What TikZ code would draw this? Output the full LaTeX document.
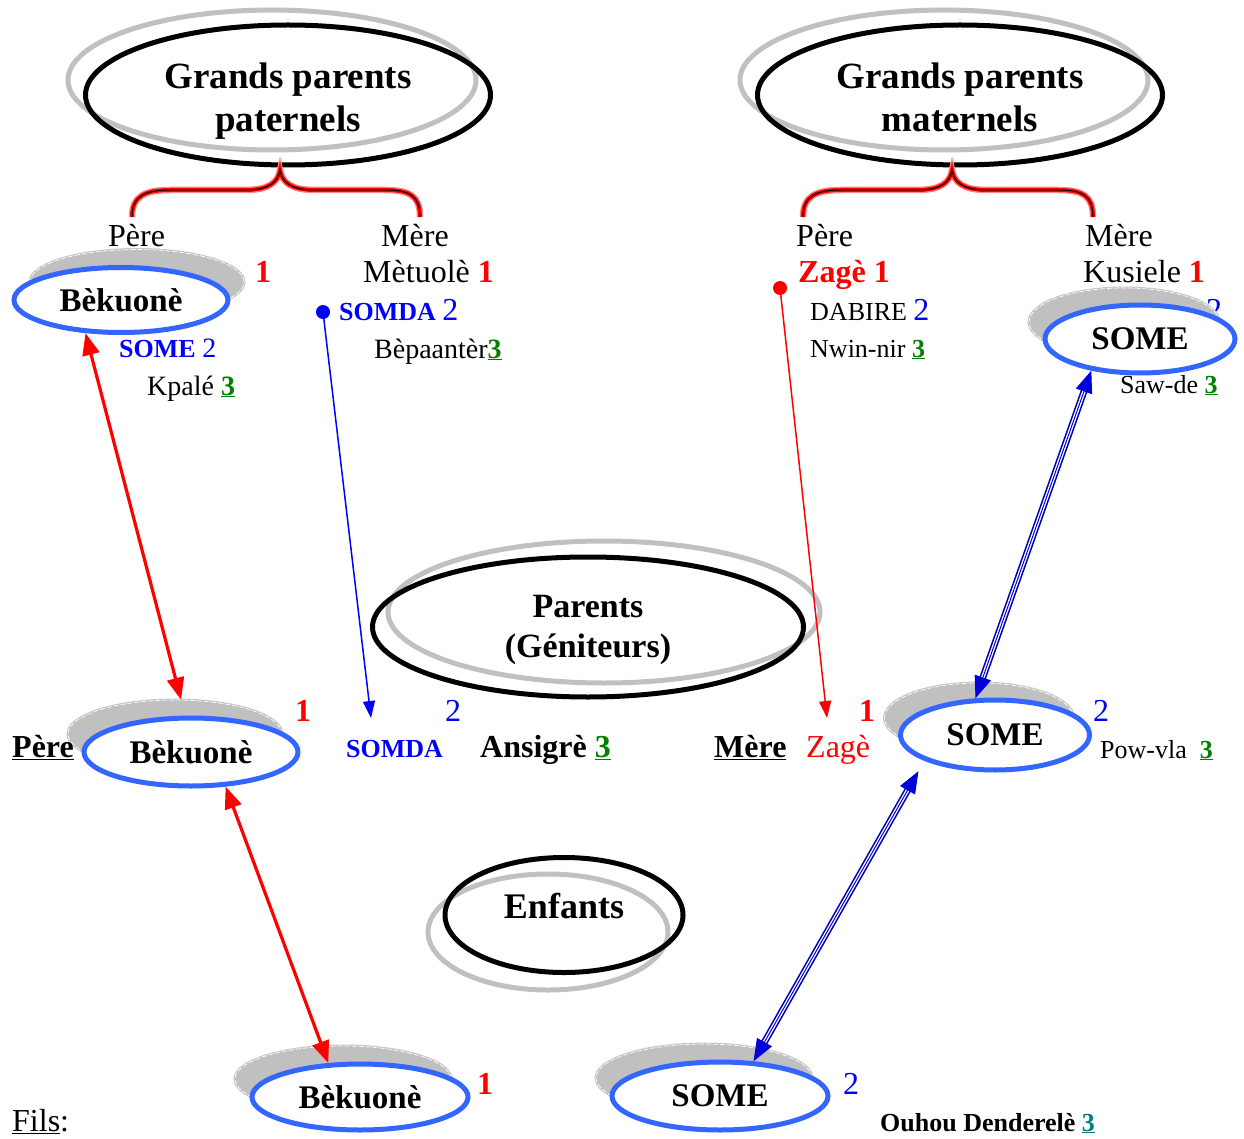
\documentclass[tikz,border=0pt]{standalone}
\usepackage{fontspec}
\setmainfont{Liberation Serif}
\usetikzlibrary{shapes.geometric,arrows.meta}
\definecolor{lblue}{RGB}{51,102,255}
\definecolor{sgray}{RGB}{192,192,192}
\definecolor{dgreen}{RGB}{0,128,0}
\definecolor{tealc}{RGB}{0,128,128}
\definecolor{pblue}{RGB}{0,0,255}
\definecolor{pred}{RGB}{255,0,0}
\newcommand\fzA{\fontsize{32}{38}\selectfont}
\newcommand\fzB{\fontsize{28}{33}\selectfont}
\newcommand\fzC{\fontsize{26}{31}\selectfont}
\newcommand\gthree{\textcolor{dgreen}{\underline{\textbf{3}}}}
\begin{document}
\begin{tikzpicture}[x=1pt,y=-1pt,
  bigshadow/.style={ellipse, draw=sgray, line width=5pt, inner sep=0pt},
  bigell/.style={ellipse, draw=black, line width=5pt, inner sep=0pt},
  bigtxt/.style={align=center, inner sep=0pt},
  pshadow/.style={ellipse, fill=sgray, draw=white, dash pattern=on 5pt off 2pt, line width=0.7pt, inner sep=0pt,
     preaction={draw=sgray!90, line width=3pt, solid}},
  pell/.style={ellipse, draw=lblue, fill=white, line width=5pt, inner sep=0pt, font=\fontsize{33}{37}\selectfont\bfseries},
  txt/.style={inner sep=0pt, anchor=base west},
  brace/.style={draw=pred, line width=4pt, preaction={draw=pred!45, line width=6.5pt}, postaction={draw=black, line width=1pt}},
  rarr/.style={draw=pred, line width=3.2pt, {Triangle[length=22pt,width=17pt]}-{Triangle[length=22pt,width=17pt]}},
  thinb/.style={draw=pblue, line width=1.5pt, -{Triangle[length=17pt,width=12pt]}},
  thinr/.style={draw=pred, line width=1.5pt, -{Triangle[length=17pt,width=12pt]}},
  bdbl/.style={draw=blue!70!black, line width=1.6pt, double=white, double distance=3.6pt},
  bhead/.style={draw=blue!85!black, line width=1pt, {Triangle[length=22pt,width=17pt]}-{Triangle[length=22pt,width=17pt]}},
  dot/.style={circle, inner sep=0pt, minimum size=14pt}
]
\useasboundingbox (0,0) rectangle (1244,1139);

% ---- big category ellipses
\node[bigshadow, minimum width=408pt, minimum height=140pt] (gpps) at (272,80) {};
\node[bigell, minimum width=405pt, minimum height=140pt] (gppe) at (288,95) {};
\node[bigtxt, font=\fontsize{37}{43}\selectfont\bfseries] (gppt) at (288,101) {Grands parents\\paternels};

\node[bigshadow, minimum width=408pt, minimum height=140pt] (gpms) at (944,80) {};
\node[bigell, minimum width=405pt, minimum height=140pt] (gpme) at (960,95) {};
\node[bigtxt, font=\fontsize{37}{43}\selectfont\bfseries] (gpmt) at (960,97) {Grands parents\\maternels};

\node[bigshadow, minimum width=432pt, minimum height=142pt] (pars) at (604,612) {};
\node[bigell, minimum width=431pt, minimum height=140pt] (pare) at (588,627) {};
\node[bigtxt, font=\fontsize{34}{40}\selectfont\bfseries] (part) at (588,630) {Parents\\(Géniteurs)};

\node[bigshadow, minimum width=240pt, minimum height=116pt] (enfs) at (548,932) {};
\node[bigell, minimum width=238pt, minimum height=115pt] (enfe) at (564,915) {};
\node[bigtxt, font=\fontsize{36}{42}\selectfont\bfseries] (enft) at (564,906) {Enfants};

% ---- braces
\path[brace] (132,217) .. controls (132,196) and (145,190) .. (170,190) -- (245,190)
  .. controls (268,190) and (278,183) .. (280,170)
  .. controls (282,183) and (292,190) .. (315,190) -- (385,190)
  .. controls (410,190) and (420,196) .. (420,217);
\path[brace] (803,217) .. controls (803,196) and (816,190) .. (841,190) -- (917,190)
  .. controls (940,190) and (950,183) .. (952,170)
  .. controls (954,183) and (964,190) .. (987,190) -- (1058,190)
  .. controls (1083,190) and (1093,196) .. (1093,217);

% ---- labels, top left
\node[txt, font=\fzA] (pg1) at (108,247) {Père};
\node[txt, font=\fzA] (mg1) at (381,247) {Mère};
\node[txt, font=\fzA\bfseries, text=pred] (n1a) at (255,283) {1};
\node[txt, font=\fzA] (mtl) at (363,283) {Mètuolè \textcolor{pred}{\textbf{1}}};
\node[txt, text=pblue] (smd1) at (339,320) {\fzC\textbf{SOMDA} \fzA 2};
\node[txt, font=\fzB] (bpt) at (374,358) {Bèpaantèr\gthree};
\node[txt, text=pblue] (sm1) at (119,357) {\fzC\textbf{SOME} \fzB 2};
\node[txt, font=\fzB] (kpl) at (147,395) {Kpalé \gthree};

% ---- labels, top right
\node[txt, font=\fzA] (pg2) at (796,247) {Père};
\node[txt, font=\fzA\bfseries, text=pred] (zg1) at (798,283) {Zagè 1};
\node[txt] (dbr) at (810,320) {\fzC DABIRE \textcolor{pblue}{\fzA 2}};
\node[txt, font=\fzC] (nwn) at (810,357) {Nwin-nir \gthree};
\node[txt, font=\fzA] (mg2) at (1085,247) {Mère};
\node[txt, font=\fzA] (ksl) at (1083,283) {Kusiele \textcolor{pred}{\textbf{1}}};
\node[txt, font=\fzA, text=pblue] (n2a) at (1206,320) {2};
\node[txt, font=\fzC] (swd) at (1120,393) {Saw-de \gthree};

% ---- labels, middle row
\node[txt, font=\fzA\bfseries, text=pred] (n1b) at (295,721) {1};
\node[txt, font=\fzC\bfseries, text=pblue] (smd2) at (346,757) {SOMDA};
\node[txt, font=\fzA, text=pblue] (n2b) at (445,721) {2};
\node[txt, font=\fzA\bfseries] (ans) at (480,757) {Ansigrè \gthree};
\node[txt, font=\fzA\bfseries] (mm) at (714,757) {\underline{Mère}};
\node[txt, font=\fzA, text=pred] (zg2) at (806,757) {Zagè};
\node[txt, font=\fzA\bfseries, text=pred] (n1c) at (859,721) {1};
\node[txt, font=\fzA, text=pblue] (n2c) at (1093,721) {2};
\node[txt, font=\fzC] (pvl) at (1100,758) {Pow-vla\ \ \gthree};

% ---- labels, bottom
\node[txt, font=\fzA\bfseries, text=pred] (n1d) at (477,1094) {1};
\node[txt, font=\fzA, text=pblue] (n2d) at (843,1094) {2};
\node[txt, font=\fzA] (fls) at (12,1131) {\underline{Fils}:};
\node[txt, font=\fzC\bfseries] (ouh) at (880,1131) {Ouhou Denderelè \textcolor{tealc}{\underline{3}}};

% ---- person ellipses with shadows
\node[pshadow, minimum width=214pt, minimum height=65pt] (bk1s) at (137,282) {};
\node[pell, minimum width=214pt, minimum height=65pt] (bk1) at (121,300) {Bèkuonè};
\node[pshadow, minimum width=214pt, minimum height=68pt] (bk2s) at (175,734) {};
\node[pell, minimum width=214pt, minimum height=68pt] (bk2) at (191,752) {Bèkuonè};
\node[txt, font=\fzA\bfseries] (pp) at (12,757) {\underline{Père}};
\node[pshadow, minimum width=216pt, minimum height=66pt] (bk3s) at (343,1079) {};
\node[pell, minimum width=216pt, minimum height=66pt] (bk3) at (360,1097) {Bèkuonè};
\node[pshadow, minimum width=190pt, minimum height=68pt] (so1s) at (1124,322) {};
\node[pell, minimum width=190pt, minimum height=68pt] (so1) at (1140,339) {SOME};
\node[pshadow, minimum width=189pt, minimum height=70pt] (so2s) at (979,718) {};
\node[pell, minimum width=189pt, minimum height=70pt] (so2) at (995,735) {SOME};
\node[pshadow, minimum width=216pt, minimum height=68pt] (so3s) at (704,1078) {};
\node[pell, minimum width=216pt, minimum height=68pt] (so3) at (720,1096) {SOME};

% ---- connectors
\draw[rarr] (bk1.223) -- (bk2s.80);
\draw[rarr] (bk2.315) -- (bk3.133);

\node[dot, fill=pblue] (dotb) at (323,312) {};
\coordinate (tipb) at (371,718);
\draw[thinb] (dotb.center) -- (tipb);
\node[dot, fill=pred] (dotr) at (780,288) {};
\coordinate (tipr) at (827,718);
\draw[thinr] (dotr.center) -- (tipr);

\draw[bdbl, shorten <=18pt, shorten >=18pt] (so1.213) -- (so2.118);
\draw[bhead] (so1.213) -- (so2.118);
\draw[bdbl, shorten <=30pt, shorten >=18pt] (so2.200) -- (so3.46);
\draw[bhead, shorten <=12pt] (so2.200) -- (so3.46);
\end{tikzpicture}
\end{document}
